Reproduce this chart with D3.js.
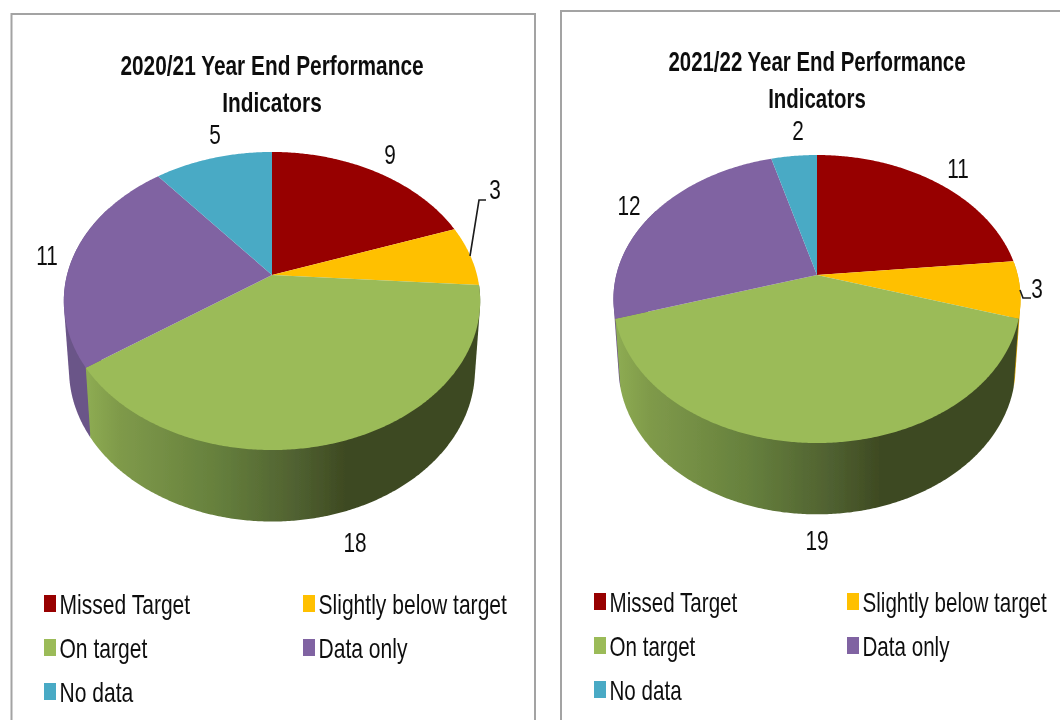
<!DOCTYPE html>
<html>
<head>
<meta charset="utf-8">
<script src="https://cdn.jsdelivr.net/npm/d3@7"></script>
<style>
html,body{margin:0;padding:0;background:#fff;overflow:hidden}
svg{display:block}
text{font-family:"Liberation Sans",Arial,sans-serif;fill:#111}
</style>
</head>
<body>
<svg id="chart" width="1060" height="720"></svg>
<script>
const categories = ["Missed Target", "Slightly below target", "On target", "Data only", "No data"];
const values2021 = [9, 3, 18, 11, 5];
const values2122 = [11, 3, 19, 12, 2];
const colours = ["#970000", "#ffc000", "#9bbb59", "#8064a2", "#4aaac5"];
const titles2021 = ["2020/21 Year End Performance", "Indicators"];
const titles2122 = ["2021/22 Year End Performance", "Indicators"];

const svg = d3.select("#chart");
const defs = svg.append("defs");
defs.append("filter").attr("id","soft").attr("x","-5%").attr("y","-5%").attr("width","110%").attr("height","110%")
  .append("feGaussianBlur").attr("stdDeviation",0.55);

const panels = [
 {id:"a", values:values2021, titles:titles2021,
  box:[11.5,14,523.5,760],
  cx:272, cy:275, rx:205, ry:144.5, p:0.1745, depth:68, shrink:0.975, k:1.02,
  titleX:272, titleY:[75,112], titleScale:0.745, legendScale:0.78,
  labels:[[390,164],[495,199],[355,552],[47,265],[215,144]],
  leader:[[470,256],[479,200],[486,200]],
  greenStart:88, greenEnd:345,
  legendRows:[604,648,692], legendCols:[44,303]},
 {id:"b", values:values2122, titles:titles2122,
  box:[561,11,560,760],
  cx:817, cy:275, rx:200.7, ry:140, p:0.1667, depth:68, shrink:0.975, k:1.02,
  titleX:817, titleY:[71,108], titleScale:0.73, legendScale:0.763,
  labels:[[958,178],[1037,298],[817,550],[629,215],[798,140]],
  leader:[[1020,290],[1023,298],[1031,298]],
  greenStart:618, greenEnd:880,
  legendRows:[602,646,690], legendCols:[594,847]}
];

function label(g,x,y,str,size,sx,anchor,weight){
  g.append("text")
   .attr("transform",`translate(${x},${y}) scale(${sx},1)`)
   .attr("text-anchor",anchor||"middle")
   .attr("font-size",size)
   .attr("font-weight",weight||"normal")
   .text(str);
}

const toRad = Math.PI/180;
panels.forEach(P=>{
  const g = svg.append("g").attr("filter","url(#soft)");
  g.append("rect").attr("x",P.box[0]).attr("y",P.box[1]).attr("width",P.box[2]).attr("height",P.box[3])
   .attr("fill","#fff").attr("stroke","#a3a3a3").attr("stroke-width",2);

  const top = a=>{
    const X=Math.sin(a),Y=Math.cos(a),w=1+P.p*Y;
    return [P.cx+P.rx*X/w, P.cy-P.ry*Y/w];
  };
  const bottom = a=>{
    const X=Math.sin(a),Y=Math.cos(a),w=1+P.p*Y;
    return [P.cx+P.shrink*P.rx*X/w, P.cy+P.depth-P.k*P.ry*Y/w];
  };
  const line = d3.line();
  const arcs = d3.pie().sort(null).value(d=>d)(P.values);
  const samples = (a0,a1)=>{
    const n=Math.max(2,Math.ceil((a1-a0)/(0.5*toRad)));
    return d3.range(n+1).map(i=>a0+(a1-a0)*i/n);
  };

  const gGreen = defs.append("linearGradient").attr("id","green"+P.id)
    .attr("gradientUnits","userSpaceOnUse")
    .attr("x1",P.greenStart).attr("x2",P.greenEnd).attr("y1",0).attr("y2",0);
  [[0,"#8dab52"],[0.12,"#7f9a4a"],[0.5,"#66803d"],[0.82,"#4f6030"],[1,"#3e4a22"]]
    .forEach(s=>gGreen.append("stop").attr("offset",s[0]).attr("stop-color",s[1]));

  // rim: only slices whose middle faces the viewer; nearest slice is painted last
  const rimFrom=90*toRad, rimTo=300*toRad;
  const frontFirst = arcs.map((d,i)=>({d,i}))
    .filter(o=>{const m=(o.d.startAngle+o.d.endAngle)/2; return m>=rimFrom&&m<=rimTo;})
    .sort((a,b)=>Math.abs((b.d.startAngle+b.d.endAngle)/2-Math.PI)-Math.abs((a.d.startAngle+a.d.endAngle)/2-Math.PI));
  frontFirst.forEach(({d,i})=>{
    const a1=Math.min(d.endAngle,rimTo);
    const s=samples(d.startAngle,a1);
    const hull=d3.polygonHull(s.map(top).concat(s.map(bottom)));
    g.append("path").attr("d",line(hull)+"Z")
     .attr("fill", i===2 ? `url(#green${P.id})` : d3.color(colours[i]).darker(0.5).formatHex());
  });

  // top face
  arcs.forEach((d,i)=>{
    const pts=[[P.cx,P.cy]].concat(samples(d.startAngle,d.endAngle).map(top));
    g.append("path").attr("d",line(pts)+"Z").attr("fill",colours[i]);
  });

  g.append("path").attr("d",line(P.leader)).attr("fill","none").attr("stroke","#1a1a1a").attr("stroke-width",1.6);

  P.titles.forEach((t,i)=>label(g,P.titleX,P.titleY[i],t,28,P.titleScale,"middle","bold"));

  P.values.forEach((v,i)=>label(g,P.labels[i][0],P.labels[i][1],String(v),27,0.77));

  categories.forEach((c,i)=>{
    const cy=P.legendRows[Math.floor(i/2)], x=P.legendCols[i%2];
    g.append("rect").attr("x",x).attr("y",cy-9).attr("width",12).attr("height",17).attr("fill",colours[i]);
    label(g,x+15.5,cy+10,c,27,P.legendScale,"start");
  });
});
</script>
</body>
</html>
